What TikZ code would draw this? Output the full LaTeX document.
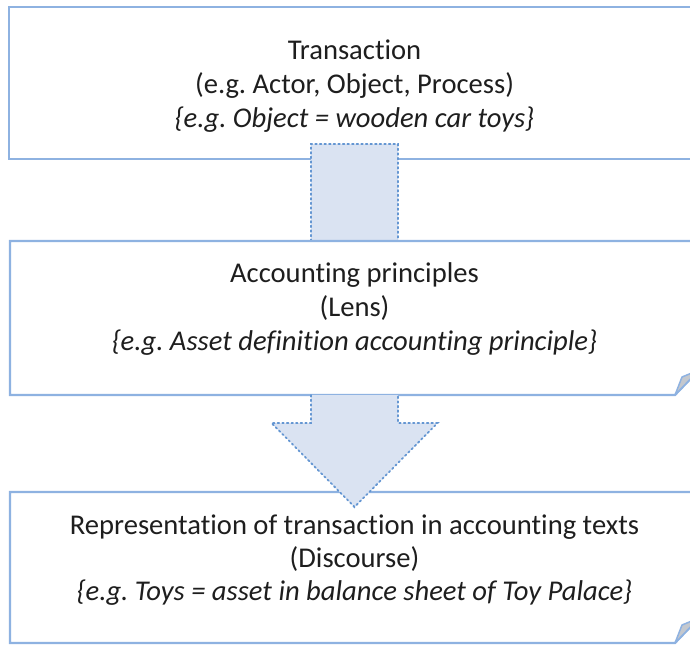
\documentclass[tikz,border=0pt]{standalone}
\usepackage{fontspec}
\setmainfont{Carlito}[Ligatures={NoCommon}]
\usetikzlibrary{calc}
\frenchspacing

\definecolor{panelblue}{RGB}{142,178,225}
\definecolor{flowfill}{RGB}{218,227,242}
\definecolor{flowdot}{RGB}{100,150,210}
\definecolor{foldgray}{RGB}{196,200,206}
\definecolor{ink}{RGB}{30,30,30}

\begin{document}
\begin{tikzpicture}[x=1pt,y=-1pt,
  panel/.style={rectangle, inner sep=0pt, outer sep=0pt},
  panelline/.style={draw=panelblue, line width=2.2pt, fill=white, line join=miter},
  foldtri/.style={draw=panelblue, line width=1.5pt, fill=foldgray, line join=round},
  flowfillst/.style={fill=flowfill},
  flowedge/.style={draw=flowdot, line width=1.8pt, dash pattern=on 1.6pt off 3pt, line cap=round},
  txt/.style={anchor=base, inner sep=0pt, text=ink, font=\fontsize{28.6}{34}\selectfont},
  txti/.style={txt, font=\fontsize{28.6}{34}\selectfont\itshape}]

\useasboundingbox (0,0) rectangle (690,645);
\clip (0,0) rectangle (690,645);

% panel frames (they run past the right border of the page)
\node[panel, minimum width=691pt, minimum height=152pt] (trans) at (354.5,83) {};
\node[panel, minimum width=689pt, minimum height=154pt] (lens) at (354.5,318) {};
\node[panel, minimum width=689pt, minimum height=151pt] (disc) at (354.5,567.5) {};

% top panel: plain rectangle
\draw[panelline] (trans.north west) rectangle (trans.south east);

% link bar between the first two panels
\fill[flowfillst] ($(trans.south)+(-43.5,-15)$) rectangle ($(lens.north)+(43.5,0)$);
\draw[flowedge] ($(lens.north)+(-43.5,0)$) -- ($(trans.south)+(-43.5,-15)$)
  -- ($(trans.south)+(43.5,-15)$) -- ($(lens.north)+(43.5,0)$);

% middle panel with folded corner
\draw[panelline] (lens.north west) -- (lens.north east) -- ($(lens.south east)+(0,-25)$)
  -- ($(lens.south east)+(-24,0)$) -- (lens.south west) -- cycle;
\draw[foldtri] ($(lens.south east)+(-24,0)$) -- ($(lens.south east)+(-17,-18)$)
  -- ($(lens.south east)+(0,-25)$) -- cycle;

% bottom panel with folded corner
\draw[panelline] (disc.north west) -- (disc.north east) -- ($(disc.south east)+(0,-25)$)
  -- ($(disc.south east)+(-24,0)$) -- (disc.south west) -- cycle;
\draw[foldtri] ($(disc.south east)+(-24,0)$) -- ($(disc.south east)+(-17,-18)$)
  -- ($(disc.south east)+(0,-25)$) -- cycle;

% block arrow from the middle panel into the bottom panel
\coordinate (tip) at ($(disc.north)+(0,15)$);
\fill[flowfillst] ($(lens.south)+(-43.5,0)$) -- ($(lens.south)+(-43.5,28)$)
  -- ($(lens.south)+(-83,28)$) -- (tip) -- ($(lens.south)+(83,28)$)
  -- ($(lens.south)+(43.5,28)$) -- ($(lens.south)+(43.5,0)$) -- cycle;
\draw[flowedge] ($(lens.south)+(-43.5,0)$) -- ($(lens.south)+(-43.5,28)$)
  -- ($(lens.south)+(-83,28)$) -- (tip) -- ($(lens.south)+(83,28)$)
  -- ($(lens.south)+(43.5,28)$) -- ($(lens.south)+(43.5,0)$);

% panel texts
\node[txt]  (trans1) at (354.5,59)  {Transaction};
\node[txt]  (trans2) at (354.5,93)  {(e.g. Actor, Object, Process)};
\node[txti] (trans3) at (354.5,127) {\{e.g. Object = wooden car toys\}};

\node[txt]  (lens1) at (354.5,282) {Accounting principles};
\node[txt]  (lens2) at (354.5,316) {(Lens)};
\node[txti] (lens3) at (354.5,350) {\{e.g. Asset definition accounting principle\}};

\node[txt]  (disc1) at (354.5,534) {Representation of transaction in accounting texts};
\node[txt]  (disc2) at (354.5,567) {(Discourse)};
\node[txti] (disc3) at (354.5,600) {\{e.g. Toys = asset in balance sheet of Toy Palace\}};
\end{tikzpicture}
\end{document}
